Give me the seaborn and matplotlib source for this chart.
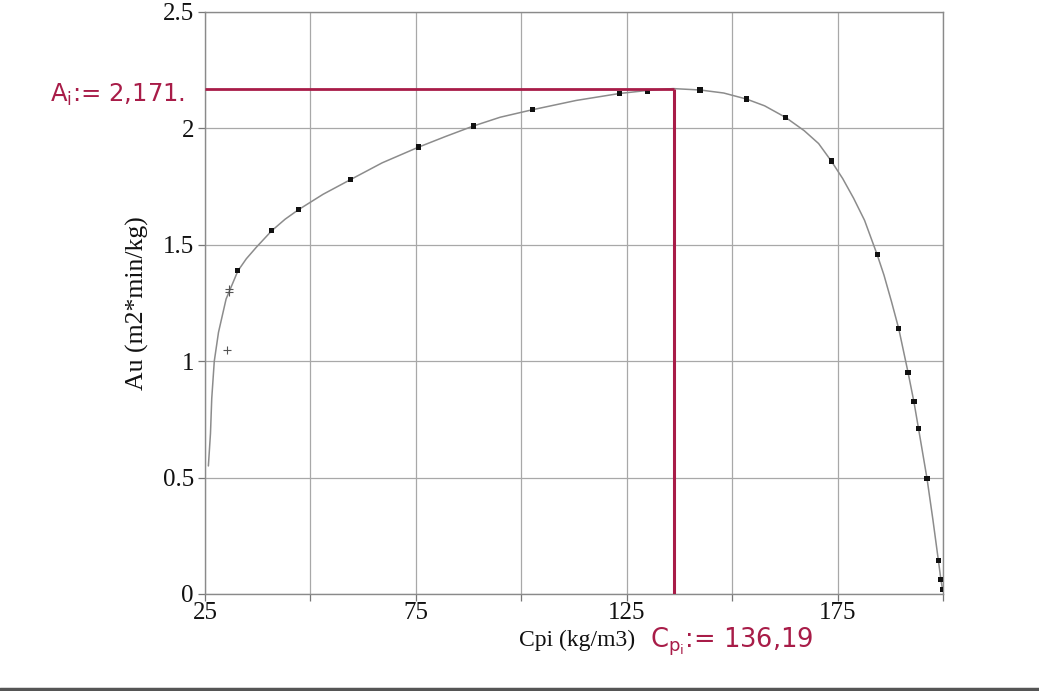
import matplotlib
matplotlib.use("Agg")
import matplotlib.pyplot as plt
import seaborn as sns
import pandas as pd

# Measured points (filled squares)
cpi_meas = [32.8, 40.8, 47.1, 59.5, 75.7, 88.6, 102.6, 123.3, 129.9, 142.4,
            153.4, 162.7, 173.5, 184.4, 189.5, 191.7, 193.1, 194.2, 196.2,
            198.9, 199.5, 199.9]
au_meas = [1.388, 1.56, 1.65, 1.78, 1.92, 2.01, 2.08, 2.15, 2.16, 2.165,
           2.126, 2.047, 1.86, 1.457, 1.14, 0.953, 0.826, 0.71, 0.497,
           0.145, 0.062, 0.02]

# Excluded points (plus signs)
cpi_excl = [30.8, 30.8, 30.1]
au_excl = [1.31, 1.297, 1.047]

# Fitted curve
cpi_fit = [25.8, 26.3, 26.6, 27.2, 28.2, 30.0, 32.8, 34.8, 37.2, 40.8, 44.0,
           47.1, 53.0, 59.5, 67.0, 75.7, 82.0, 88.6, 95.0, 102.6, 113.0,
           123.3, 129.9, 136.0, 142.4, 148.0, 153.4, 157.7, 162.7, 167.1,
           170.5, 173.5, 176.2, 178.8, 181.4, 184.4, 186.0, 187.8,
           189.5, 191.7, 193.1, 194.2, 196.2, 197.6, 198.9, 199.5, 199.9]
au_fit = [0.55, 0.69, 0.84, 1.00, 1.124, 1.267, 1.388, 1.44, 1.49, 1.56, 1.61,
          1.65, 1.717, 1.78, 1.852, 1.92, 1.965, 2.01, 2.048, 2.08, 2.12,
          2.15, 2.163, 2.171, 2.165, 2.152, 2.126, 2.097, 2.047, 1.99,
          1.935, 1.86, 1.785, 1.70, 1.605, 1.457, 1.37, 1.255,
          1.14, 0.953, 0.826, 0.71, 0.497, 0.32, 0.145, 0.062, 0.02]

# Optimum
a_opt = 2.171
c_opt = 136.19

x_ticks = [25, 75, 125, 175]
x_grid = [25, 50, 75, 100, 125, 150, 175, 200]
y_ticks = [0, 0.5, 1, 1.5, 2, 2.5]
y_tick_labels = ["0", "0.5", "1", "1.5", "2", "2.5"]

sns.set_theme(style="white")
plt.rcParams["font.family"] = ["Liberation Serif", "DejaVu Serif"]

fig = plt.figure(figsize=(10.39, 6.91), dpi=100)
ax = fig.add_axes([205 / 1039, 1 - 594 / 691, (943 - 205) / 1039, (594 - 12) / 691])

grid_c = "#a8a8a8"
for gx in x_grid:
    ax.axvline(gx, color=grid_c, lw=0.9, zorder=0)
for gy in y_ticks:
    ax.axhline(gy, color=grid_c, lw=0.9, zorder=0)

df_fit = pd.DataFrame({"Cpi": cpi_fit, "Au": au_fit})
sns.lineplot(data=df_fit, x="Cpi", y="Au", sort=False, color="#8c8c8c",
             lw=1.1, ax=ax, zorder=2)

df_meas = pd.DataFrame({"Cpi": cpi_meas, "Au": au_meas})
sns.scatterplot(data=df_meas, x="Cpi", y="Au", marker="s", s=14,
                color="#111111", edgecolor="none", ax=ax, zorder=3)

df_excl = pd.DataFrame({"Cpi": cpi_excl, "Au": au_excl})
sns.scatterplot(data=df_excl, x="Cpi", y="Au", marker="+", s=40,
                color="#555555", linewidth=0.8, ax=ax, zorder=3)

# Handwritten optimum marking
red = "#a81c48"
ax.plot([25, c_opt], [a_opt, a_opt], color=red, lw=2.0, zorder=4,
        solid_capstyle="butt")
ax.plot([c_opt, c_opt], [a_opt, 0], color=red, lw=2.2, zorder=4,
        solid_capstyle="butt")

ax.set_xlim(25, 200)
ax.set_ylim(0, 2.5)
ax.set_xticks(x_ticks)
ax.set_xticks(x_grid, minor=True)
ax.set_yticks(y_ticks)
ax.set_yticklabels(y_tick_labels)
ax.tick_params(axis="both", which="both", direction="out", length=5,
               width=0.9, color="#777777", labelsize=18, labelcolor="#111111",
               bottom=True, left=True)
ax.tick_params(axis="y", pad=3)
ax.tick_params(axis="x", pad=1)
ax.set_xlabel("Cpi (kg/m3)", fontsize=17, color="#111111")
ax.set_ylabel("Au (m2*min/kg)", fontsize=18.5, color="#111111")
ax.xaxis.set_label_coords(0.504, -0.062)
ax.yaxis.set_label_coords(-0.092, 0.5)
ax.yaxis.label.set_va("center")

for s in ax.spines.values():
    s.set_color("#8a8a8a")
    s.set_linewidth(1.0)

fig.text(50 / 1039, 1 - 95 / 691, "A$_{\\mathregular{i}}$:= 2,171.", color=red,
         fontsize=17.5, family="DejaVu Sans", va="center", ha="left")
fig.text(650 / 1039, 1 - 642 / 691, "C$_{\\mathregular{p_i}}$:= 136,19", color=red,
         fontsize=18.5, family="DejaVu Sans", va="center", ha="left")

# Page edge along the bottom
fig.add_artist(plt.Line2D([0, 1], [1 - 689 / 691, 1 - 689 / 691],
                          transform=fig.transFigure, color="#555555", lw=2.5))

fig.savefig("out.png", dpi=100, facecolor="white")
